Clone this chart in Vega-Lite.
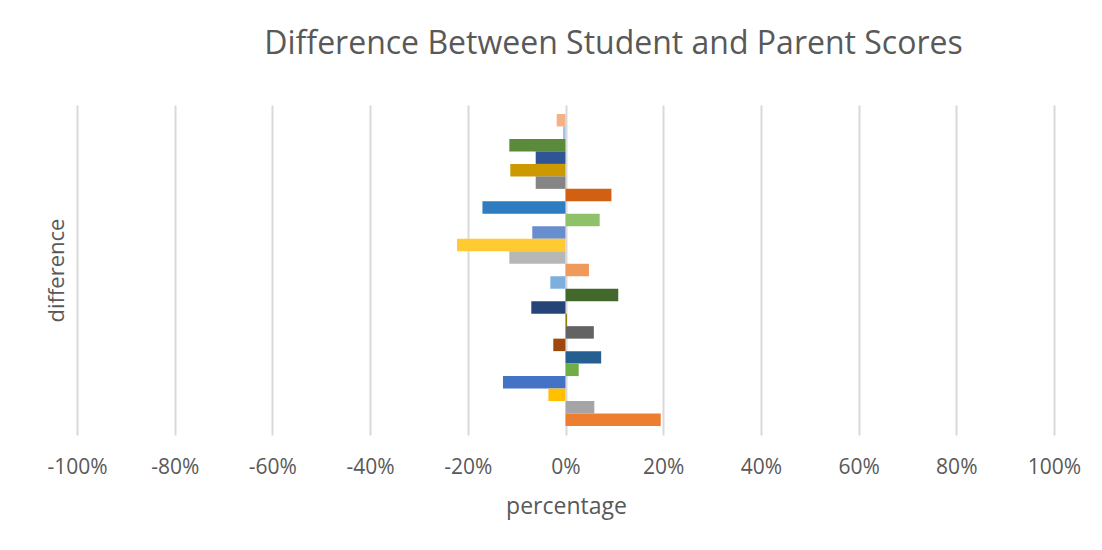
{
  "$schema": "https://vega.github.io/schema/vega-lite/v6.json",
  "autosize": "none",
  "width": 977,
  "height": 330,
  "padding": {"top": 105, "left": 77, "right": 48, "bottom": 115},
  "background": "white",
  "title": {
    "text": "Difference Between Student and Parent Scores",
    "font": "Open Sans",
    "fontSize": 32,
    "fontWeight": "normal",
    "color": "#595959",
    "anchor": "middle",
    "baseline": "alphabetic",
    "offset": 19,
    "dx": 48
  },
  "data": {
    "values": [
      {"series": "s1", "difference": -0.018, "color": "#F4B183"},
      {"series": "s2", "difference": -0.005, "color": "#9DC3E6"},
      {"series": "s3", "difference": -0.115, "color": "#5B8A3B"},
      {"series": "s4", "difference": -0.061, "color": "#2F5597"},
      {"series": "s5", "difference": -0.113, "color": "#CC9A00"},
      {"series": "s6", "difference": -0.061, "color": "#858585"},
      {"series": "s7", "difference": 0.094, "color": "#D26012"},
      {"series": "s8", "difference": -0.17, "color": "#2E7DC1"},
      {"series": "s9", "difference": 0.07, "color": "#8FC16A"},
      {"series": "s10", "difference": -0.068, "color": "#698ED0"},
      {"series": "s11", "difference": -0.222, "color": "#FFCA32"},
      {"series": "s12", "difference": -0.115, "color": "#B7B7B7"},
      {"series": "s13", "difference": 0.048, "color": "#F1985B"},
      {"series": "s14", "difference": -0.031, "color": "#7CAFDD"},
      {"series": "s15", "difference": 0.108, "color": "#43682B"},
      {"series": "s16", "difference": -0.07, "color": "#264478"},
      {"series": "s17", "difference": 0.003, "color": "#997300"},
      {"series": "s18", "difference": 0.058, "color": "#636363"},
      {"series": "s19", "difference": -0.025, "color": "#9E480E"},
      {"series": "s20", "difference": 0.073, "color": "#255E91"},
      {"series": "s21", "difference": 0.027, "color": "#70AD47"},
      {"series": "s22", "difference": -0.128, "color": "#4472C4"},
      {"series": "s23", "difference": -0.035, "color": "#FFC000"},
      {"series": "s24", "difference": 0.059, "color": "#A5A5A5"},
      {"series": "s25", "difference": 0.195, "color": "#ED7D31"}
    ]
  },
  "mark": {"type": "bar"},
  "encoding": {
    "y": {
      "field": "series",
      "type": "nominal",
      "sort": null,
      "scale": {"paddingInner": 0, "paddingOuter": 0.72},
      "axis": {
        "title": "difference",
        "labels": false,
        "ticks": false,
        "domain": false,
        "grid": false,
        "titleFont": "Open Sans",
        "titleFontSize": 22,
        "titleFontWeight": "normal",
        "titleColor": "#595959",
        "titleAngle": -90,
        "titleAlign": "center",
        "titleBaseline": "alphabetic",
        "titleX": -14,
        "titleY": 165
      }
    },
    "x": {
      "field": "difference",
      "type": "quantitative",
      "scale": {"domain": [-1, 1], "nice": false, "zero": false},
      "axis": {
        "title": "percentage",
        "values": [-1, -0.8, -0.6, -0.4, -0.2, 0, 0.2, 0.4, 0.6, 0.8, 1],
        "format": ".0%",
        "labelExpr": "replace(datum.label, '\u2212', '-')",
        "labelFont": "Open Sans",
        "labelFontSize": 21,
        "labelColor": "#595959",
        "labelBaseline": "alphabetic",
        "labelPadding": 38,
        "labelFlush": false,
        "labelOverlap": false,
        "ticks": false,
        "domain": false,
        "grid": true,
        "gridColor": "#D9D9D9",
        "gridWidth": 2,
        "titleFont": "Open Sans",
        "titleFontSize": 23,
        "titleFontWeight": "normal",
        "titleColor": "#595959",
        "titleBaseline": "alphabetic",
        "titleX": 489,
        "titleY": 78
      }
    },
    "color": {"field": "color", "type": "nominal", "scale": null, "legend": null}
  },
  "config": {"view": {"stroke": null}}
}
